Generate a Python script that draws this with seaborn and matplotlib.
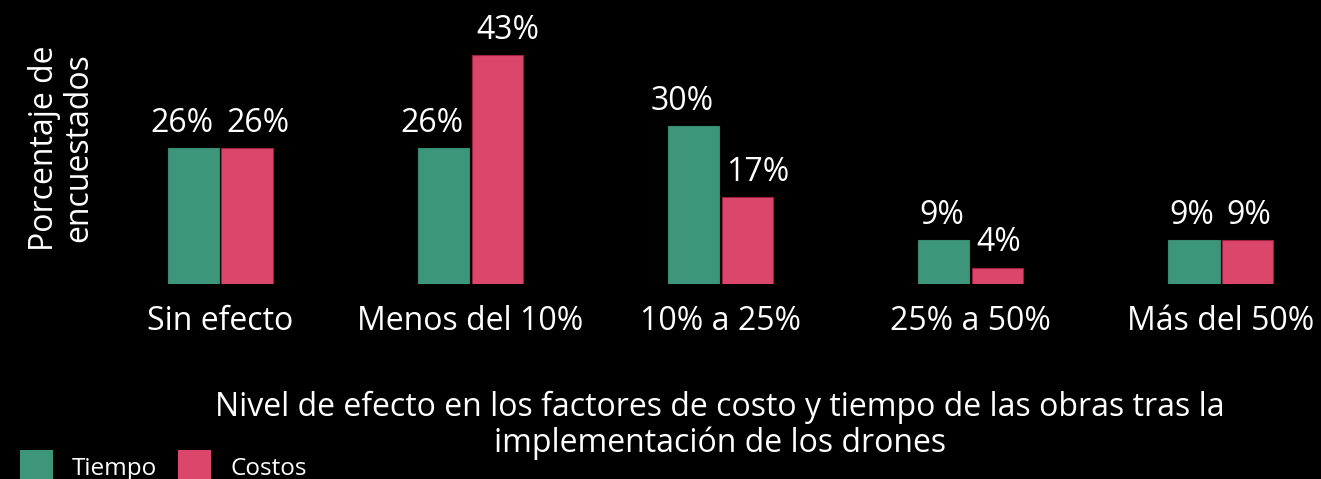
import matplotlib
matplotlib.use("Agg")
import matplotlib.pyplot as plt
import seaborn as sns
import pandas as pd
from matplotlib.patches import Rectangle

categorias = ["Sin efecto", "Menos del 10%", "10% a 25%", "25% a 50%", "Más del 50%"]
tiempo = [26, 26, 30, 9, 9]
costos = [26, 43, 17, 4, 9]
series = ["Tiempo", "Costos"]
colores = ["#3d957a", "#db476b"]

df = pd.DataFrame({
    "categoria": categorias * 2,
    "valor": tiempo + costos,
    "serie": [series[0]] * len(categorias) + [series[1]] * len(categorias),
})

sns.set_theme(style="dark")
plt.rcParams["font.family"] = ["Open Sans", "DejaVu Sans"]

W, H = 1321, 479
fig = plt.figure(figsize=(W / 100, H / 100), dpi=100, facecolor="black")
ax = fig.add_axes([95 / W, (H - 284) / H, (W - 95) / W, 284 / H])
ax.set_facecolor("black")

sns.barplot(data=df, x="categoria", y="valor", hue="serie", palette=colores,
            saturation=1, width=0.43, gap=0.05, ax=ax, legend=False,
            errorbar=None, linewidth=0.8)
for patch, col in zip(ax.patches, [colores[0]] * 5 + [colores[1]] * 5):
    patch.set_edgecolor(sns.set_hls_values(col, l=0.38))

# value labels: Tiempo right-aligned, Costos left-aligned, pushed apart
for container, (ha, dx) in zip(ax.containers, [("right", 14.4), ("left", -15.1)]):
    texts = ax.bar_label(container,
                         labels=[f"{int(v)}%" for v in container.datavalues],
                         padding=6, color="white", fontsize=23)
    for t in texts:
        t.set_horizontalalignment(ha)
        t.xyann = (dx, 6)

ax.set_xlim(-0.5, 4.4)
ax.set_ylim(1, 53.2)
ax.set_yticks([])
ax.set_xlabel("")
ax.set_ylabel("")
ax.tick_params(axis="x", colors="white", labelsize=23, length=0, pad=15)
for s in ax.spines.values():
    s.set_visible(False)
ax.grid(False)

fig.text(720 / W, 1 - 425 / H,
         "Nivel de efecto en los factores de costo y tiempo de las obras tras la\nimplementación de los drones",
         ha="center", va="center", color="white", fontsize=23, linespacing=1.1)
fig.text(62 / W, 1 - 148 / H, "Porcentaje de\nencuestados", rotation=90,
         ha="center", va="center", color="white", fontsize=23, linespacing=1.05)

# legend along the bottom-left edge
legend_x = [20, 178]
for x0, col, name in zip(legend_x, colores, series):
    fig.add_artist(Rectangle((x0 / W, 0), 33 / W, (H - 450) / H,
                             transform=fig.transFigure, facecolor=col,
                             edgecolor="none"))
    fig.text((x0 + 52) / W, 1 - 475 / H, name, ha="left", va="baseline",
             color="white", fontsize=17.5)

fig.savefig("out.png", dpi=100, facecolor="black")
